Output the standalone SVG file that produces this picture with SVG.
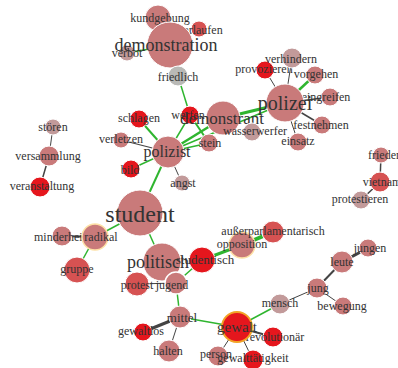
<svg xmlns="http://www.w3.org/2000/svg" width="398" height="368" viewBox="0 0 398 368">
  <style>
    .g { stroke: #2fb52f; fill: none; }
    .d { stroke: #444; fill: none; }
    .w { stroke: #fff; fill: none; }
    circle { stroke: #fff; stroke-width: 1; }
    .rose { fill: #c97a7a; }
    .pale { fill: #c29a9a; }
    .mid { fill: #d65252; }
    .red { fill: #e5161d; }
    .grey { fill: #b9b9b6; }
    .ring { stroke: #fde1a6; stroke-width: 1.5; }
    text { font-family: "Liberation Serif", "Times New Roman", serif; fill: #333; text-anchor: middle; font-size: 12px; }
  </style>
  <rect width="398" height="368" fill="#fff"/>

  <g id="connectors">
    <line class="w" x1="166" y1="46" x2="158" y2="18" stroke-width="1"/>
    <line class="d" x1="166" y1="46" x2="199" y2="29" stroke-width="0.8" stroke="#888"/>
    <line class="g" x1="166" y1="46" x2="127" y2="53" stroke-width="1.5"/>
    <line class="d" x1="166" y1="46" x2="178" y2="76" stroke-width="1.5"/>
    <line class="g" x1="178" y1="76" x2="190" y2="115" stroke-width="1.5"/>
    <line class="g" x1="190" y1="115" x2="168" y2="152" stroke-width="1.5"/>
    <line class="g" x1="190" y1="115" x2="209" y2="143" stroke-width="2"/>
    <line class="g" x1="223" y1="118" x2="168" y2="152" stroke-width="2.5"/>
    <line class="g" x1="223" y1="118" x2="285" y2="103" stroke-width="3"/>
    <line class="g" x1="168" y1="152" x2="209" y2="143" stroke-width="1.5"/>
    <line class="g" x1="168" y1="152" x2="285" y2="103" stroke-width="1.5"/>
    <line class="d" x1="285" y1="103" x2="265" y2="70" stroke-width="1"/>
    <line class="d" x1="285" y1="103" x2="292" y2="58" stroke-width="1"/>
    <line class="g" x1="285" y1="103" x2="315" y2="75" stroke-width="2.5"/>
    <line class="d" x1="285" y1="103" x2="330" y2="97" stroke-width="1.5"/>
    <line class="d" x1="285" y1="103" x2="322" y2="125" stroke-width="1.5"/>
    <line class="d" x1="285" y1="103" x2="298" y2="142" stroke-width="1"/>
    <line class="g" x1="168" y1="152" x2="139" y2="119" stroke-width="2"/>
    <line class="d" x1="168" y1="152" x2="121" y2="140" stroke-width="1.2"/>
    <line class="g" x1="168" y1="152" x2="131" y2="169" stroke-width="1.5"/>
    <line class="d" x1="168" y1="152" x2="182" y2="183" stroke-width="1"/>
    <line class="g" x1="168" y1="152" x2="140" y2="213" stroke-width="2"/>
    <line class="g" x1="140" y1="213" x2="95" y2="237" stroke-width="1.5"/>
    <line class="g" x1="140" y1="213" x2="162" y2="262" stroke-width="1.5"/>
    <line class="d" x1="95" y1="237" x2="62" y2="236" stroke-width="2"/>
    <line class="g" x1="95" y1="237" x2="77" y2="270" stroke-width="1.5"/>
    <line class="d" x1="53" y1="127" x2="49" y2="156" stroke-width="1"/>
    <line class="d" x1="49" y1="156" x2="40" y2="187" stroke-width="1.5"/>
    <line class="g" x1="176" y1="283" x2="202" y2="260" stroke-width="1.5"/>
    <line class="d" x1="137" y1="284" x2="176" y2="283" stroke-width="1"/>
    <line class="g" x1="202" y1="260" x2="242" y2="245" stroke-width="3"/>
    <line class="g" x1="242" y1="245" x2="273" y2="232" stroke-width="4"/>
    <line class="g" x1="176" y1="283" x2="180" y2="317" stroke-width="1.5"/>
    <line class="g" x1="180" y1="317" x2="237" y2="327" stroke-width="1.5"/>
    <line class="d" x1="180" y1="317" x2="143" y2="332" stroke-width="3"/>
    <line class="d" x1="180" y1="317" x2="169" y2="351" stroke-width="1"/>
    <line class="g" x1="237" y1="327" x2="280" y2="304" stroke-width="1.5"/>
    <line class="d" x1="237" y1="327" x2="273" y2="337" stroke-width="2"/>
    <line class="d" x1="237" y1="327" x2="218" y2="356" stroke-width="1"/>
    <line class="d" x1="237" y1="327" x2="253" y2="360" stroke-width="1"/>
    <line class="d" x1="280" y1="304" x2="317" y2="288" stroke-width="1"/>
    <line class="d" x1="317" y1="288" x2="342" y2="262" stroke-width="2"/>
    <line class="d" x1="342" y1="262" x2="368" y2="248" stroke-width="3"/>
    <line class="d" x1="317" y1="288" x2="343" y2="306" stroke-width="1"/>
    <line class="d" x1="380" y1="182" x2="381" y2="155" stroke-width="1.5"/>
    <line class="d" x1="380" y1="182" x2="361" y2="200" stroke-width="1.5"/>
  </g>

  <g id="n-kundgebung"><circle class="rose" cx="158" cy="18" r="13"/><text x="160" y="22">kundgebung</text></g>
  <g id="n-verlaufen"><circle class="mid" cx="199" cy="29" r="8"/><text x="200" y="34">verlaufen</text></g>
  <g id="n-verbot"><circle class="pale" cx="127" cy="53" r="8"/><text x="127" y="57">verbot</text></g>
  <g id="n-demonstration"><circle class="rose" cx="170" cy="45" r="23"/><text x="166" y="51" style="font-size:18px">demonstration</text></g>
  <g id="n-friedlich"><circle class="grey" cx="178" cy="76" r="10"/><text x="178" y="81">friedlich</text></g>

  <g id="n-werfen"><circle class="red" cx="190" cy="115" r="9"/><text x="188" y="119">werfen</text></g>
  <g id="n-demonstrant"><circle class="rose" cx="223" cy="118" r="17"/><text x="222" y="124" style="font-size:17px">demonstrant</text></g>
  <g id="n-stein"><circle class="rose" cx="209" cy="143" r="9"/><text x="210" y="147">stein</text></g>
  <g id="n-wasserwerfer"><circle class="pale" cx="252" cy="132" r="9"/><text x="255" y="135">wasserwerfer</text></g>
  <g id="n-provozieren"><circle class="red" cx="265" cy="70" r="9"/><text x="264" y="73">provozieren</text></g>
  <g id="n-verhindern"><circle class="pale" cx="292" cy="58" r="10"/><text x="291" y="63">verhindern</text></g>
  <g id="n-vorgehen"><circle class="rose" cx="315" cy="75" r="9"/><text x="316" y="78">vorgehen</text></g>
  <g id="n-eingreifen"><circle class="rose" cx="330" cy="97" r="9"/><text x="326" y="101">eingreifen</text></g>
  <g id="n-festnehmen"><circle class="rose" cx="322" cy="125" r="9"/><text x="321" y="129">festnehmen</text></g>
  <g id="n-einsatz"><circle class="rose" cx="298" cy="142" r="9"/><text x="298" y="145">einsatz</text></g>
  <g id="n-polizei"><circle class="rose" cx="285" cy="103" r="19"/><text x="285" y="110" style="font-size:20px">polizei</text></g>

  <g id="n-schlagen"><circle class="red" cx="139" cy="119" r="9"/><text x="139" y="122">schlagen</text></g>
  <g id="n-verletzen"><circle class="rose" cx="121" cy="140" r="8"/><text x="121" y="143">verletzen</text></g>
  <g id="n-bild"><circle class="red" cx="131" cy="169" r="9"/><text x="130" y="174">bild</text></g>
  <g id="n-angst"><circle class="pale" cx="182" cy="183" r="8"/><text x="183" y="187">angst</text></g>
  <g id="n-polizist"><circle class="rose" cx="168" cy="152" r="16"/><text x="167" y="157" style="font-size:16px">polizist</text></g>

  <g id="n-stoeren"><circle class="pale" cx="53" cy="127" r="8"/><text x="53" y="131">stören</text></g>
  <g id="n-versammlung"><circle class="rose" cx="49" cy="156" r="10"/><text x="48" y="160">versammlung</text></g>
  <g id="n-veranstaltung"><circle class="red" cx="40" cy="187" r="10"/><text x="42" y="190">veranstaltung</text></g>

  <g id="n-student"><circle class="rose" cx="140" cy="213" r="23"/><text x="140" y="222" style="font-size:24px">student</text></g>
  <g id="n-minderheit"><circle class="rose" cx="62" cy="236" r="10"/><text x="60" y="241">minderheit</text></g>
  <g id="n-radikal"><circle class="rose ring" cx="95" cy="237" r="13"/><text x="101" y="241">radikal</text></g>
  <g id="n-gruppe"><circle class="mid" cx="77" cy="270" r="13"/><text x="77" y="273">gruppe</text></g>

  <g id="n-politisch"><circle class="rose" cx="162" cy="262" r="19"/><text x="158" y="268" style="font-size:18px">politisch</text></g>
  <g id="n-studentisch"><circle class="red" cx="202" cy="260" r="13"/><text x="205" y="264" style="font-size:13px">studentisch</text></g>
  <g id="n-protest"><circle class="mid" cx="137" cy="284" r="12"/><text x="137" y="289">protest</text></g>
  <g id="n-jugend"><circle class="rose" cx="176" cy="283" r="11" style="stroke-width:1.5"/><text x="172" y="289">jugend</text></g>
  <g id="n-opposition"><circle class="rose ring" cx="242" cy="245" r="13"/><text x="242" y="248">opposition</text></g>
  <g id="n-ausserparlamentarisch"><circle class="mid" cx="273" cy="232" r="11"/><text x="273" y="235">außerparlamentarisch</text></g>

  <g id="n-mittel"><circle class="rose" cx="180" cy="317" r="11"/><text x="182" y="322" style="font-size:13px">mittel</text></g>
  <g id="n-gewaltlos"><circle class="red" cx="143" cy="332" r="9"/><text x="141" y="335">gewaltlos</text></g>
  <g id="n-halten"><circle class="rose" cx="169" cy="351" r="11"/><text x="168" y="355">halten</text></g>
  <g id="n-mensch"><circle class="pale" cx="280" cy="304" r="10"/><text x="280" y="307">mensch</text></g>
  <g id="n-revolutionaer"><circle class="red" cx="273" cy="337" r="10"/><text x="275" y="341">revolutionär</text></g>
  <g id="n-person"><circle class="rose" cx="218" cy="356" r="10"/><text x="216" y="358">person</text></g>
  <g id="n-gewalttaetigkeit"><circle class="red" cx="253" cy="360" r="10"/><text x="253" y="362">gewalttätigkeit</text></g>
  <g id="n-gewalt"><circle class="red" cx="237" cy="327" r="15" style="stroke:#f2a326;stroke-width:2"/><text x="237" y="332" style="font-size:15px">gewalt</text></g>

  <g id="n-jung"><circle class="rose" cx="317" cy="288" r="10"/><text x="318" y="292">jung</text></g>
  <g id="n-leute"><circle class="rose" cx="342" cy="262" r="11"/><text x="342" y="266">leute</text></g>
  <g id="n-jungen"><circle class="rose" cx="368" cy="248" r="9"/><text x="370" y="252">jungen</text></g>
  <g id="n-bewegung"><circle class="rose" cx="343" cy="306" r="9"/><text x="342" y="310">bewegung</text></g>

  <g id="n-frieden"><circle class="rose" cx="381" cy="155" r="8"/><text x="385" y="159">frieden</text></g>
  <g id="n-vietnam"><circle class="mid" cx="380" cy="182" r="10"/><text x="382" y="186">vietnam</text></g>
  <g id="n-protestieren"><circle class="pale" cx="361" cy="200" r="9"/><text x="360" y="203">protestieren</text></g>
</svg>
